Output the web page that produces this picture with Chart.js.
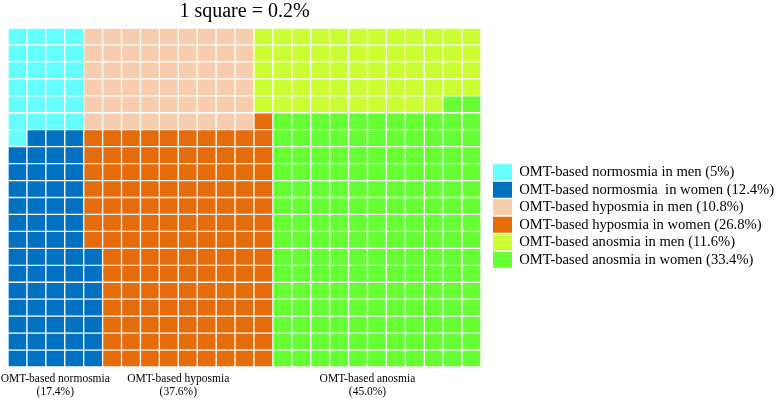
<!DOCTYPE html>
<html lang="en">
  <head>
    <meta charset="UTF-8" />
    <title>OMT-based olfactory function waffle</title>
    <script src="https://cdn.jsdelivr.net/npm/chart.js"></script>
    <style>
      html, body {
        margin: 0;
        padding: 0;
        background: #fff;
      }
      #wrap {
        width: 778px;
        height: 400px;
      }
    </style>
  </head>
  <body>
    <div id="wrap"><canvas id="waffle"></canvas></div>

    <script>
      // one square stands for this many percent
      const squareValue = 0.2;
      const gridCols = 25;
      const gridRows = 20;

      // main groups shown under the grid
      const groupNames = ["OMT-based normosmia", "OMT-based hyposmia", "OMT-based anosmia"];
      const groupPercents = [17.4, 37.6, 45.0];

      // sub groups (legend) : men / women inside each group
      const subNames = [
        "OMT-based normosmia in men (5%)",
        "OMT-based normosmia  in women (12.4%)",
        "OMT-based hyposmia in men (10.8%)",
        "OMT-based hyposmia in women (26.8%)",
        "OMT-based anosmia in men (11.6%)",
        "OMT-based anosmia in women (33.4%)",
      ];
      const subPercents = [5, 12.4, 10.8, 26.8, 11.6, 33.4];
      const subGroup = [0, 0, 1, 1, 2, 2];
      const subColors = ["#66FFFF", "#0070C0", "#F8CDAE", "#E46C0A", "#CCFF33", "#66FF33"];

      const serif = "'Liberation Serif', 'Times New Roman', serif";

      // --- lay the squares out ---
      const groupCounts = groupPercents.map((p) => Math.round(p / squareValue));
      const groupCells = groupNames.map(() => []);
      let gi = 0;
      let used = 0;
      // groups fill column by column, bottom up
      for (let c = 0; c < gridCols; c++) {
        for (let r = gridRows - 1; r >= 0; r--) {
          if (gi >= groupCounts.length) break;
          groupCells[gi].push({ c, r });
          used++;
          if (used === groupCounts[gi]) {
            gi++;
            used = 0;
          }
        }
      }

      // inside a group, men take the first squares reading row by row from the top
      const cellColor = [];
      for (let r = 0; r < gridRows; r++) cellColor.push(new Array(gridCols).fill("#fff"));
      groupCells.forEach((cells, g) => {
        const subs = subGroup.map((sg, i) => (sg === g ? i : -1)).filter((i) => i >= 0);
        const sorted = cells.slice().sort((a, b) => a.r - b.r || a.c - b.c);
        let k = 0;
        subs.forEach((si) => {
          const n = Math.round(subPercents[si] / squareValue);
          for (let j = 0; j < n && k < sorted.length; j++, k++) {
            cellColor[sorted[k].r][sorted[k].c] = subColors[si];
          }
        });
      });

      // one stacked dataset per row, bottom row first
      const colLabels = Array.from({ length: gridCols }, (_, i) => String(i + 1));
      const datasets = [];
      for (let r = gridRows - 1; r >= 0; r--) {
        datasets.push({
          label: "row " + (r + 1),
          data: colLabels.map(() => 1),
          backgroundColor: cellColor[r],
          borderColor: "#ffffff",
          borderWidth: 1,
          borderSkipped: false,
          barPercentage: 1,
          categoryPercentage: 1,
        });
      }

      // group label sits under the middle of the columns the group touches
      const groupCentres = groupCells.map((cells) => {
        const cs = cells.map((p) => p.c);
        return (Math.min(...cs) + Math.max(...cs) + 1) / 2;
      });

      new Chart(document.getElementById("waffle"), {
        type: "bar",
        data: { labels: colLabels, datasets },
        options: {
          responsive: true,
          maintainAspectRatio: false,
          animation: false,
          layout: { padding: { left: 8, right: 0, top: 0, bottom: 0 } },
          scales: {
            x: { display: false, stacked: true },
            y: { display: false, stacked: true, min: 0, max: gridRows },
            // empty strip between grid and legend
            gap: {
              type: "linear",
              axis: "y",
              position: "right",
              grid: { display: false, drawTicks: false },
              border: { display: false },
              ticks: { display: false },
              afterFit: (a) => {
                a.width = 10.5;
              },
            },
            groups: {
              type: "linear",
              axis: "x",
              position: "bottom",
              min: 0,
              max: gridCols,
              offset: false,
              grid: { display: false, drawTicks: false, offset: false },
              border: { display: false },
              afterBuildTicks: (axis) => {
                axis.ticks = groupCentres.map((v) => ({ value: v }));
              },
              afterFit: (a) => {
                a.height = 33;
                a.paddingLeft = 0;
                a.paddingRight = 0;
              },
              ticks: {
                autoSkip: false,
                maxRotation: 0,
                padding: 6,
                color: "#000",
                font: { family: serif, size: 11.5, lineHeight: 1.12 },
                callback: (v, i) => [groupNames[i], "(" + groupPercents[i].toFixed(1) + "%)"],
              },
            },
          },
          plugins: {
            title: {
              display: true,
              text: "1 square = " + squareValue + "%",
              fullSize: false,
              color: "#000",
              font: { family: serif, size: 20, weight: "normal", lineHeight: 1.2 },
              padding: { top: 0, bottom: 4 },
            },
            legend: {
              position: "right",
              maxWidth: 286.5,
              onClick: null,
              title: {
                display: true,
                text: " ",
                font: { size: 12, lineHeight: 1 },
                padding: { top: 10, bottom: 10 },
              },
              labels: {
                boxWidth: 19,
                boxHeight: 16,
                padding: 1.5,
                color: "#000",
                font: { family: serif, size: 14.6 },
                generateLabels: () =>
                  subNames.map((t, i) => ({
                    text: t,
                    fillStyle: subColors[i],
                    strokeStyle: subColors[i],
                    fontColor: "#000",
                    lineWidth: 0,
                    hidden: false,
                    index: i,
                  })),
              },
            },
            tooltip: { enabled: false },
          },
        },
      });
    </script>
  </body>
</html>
